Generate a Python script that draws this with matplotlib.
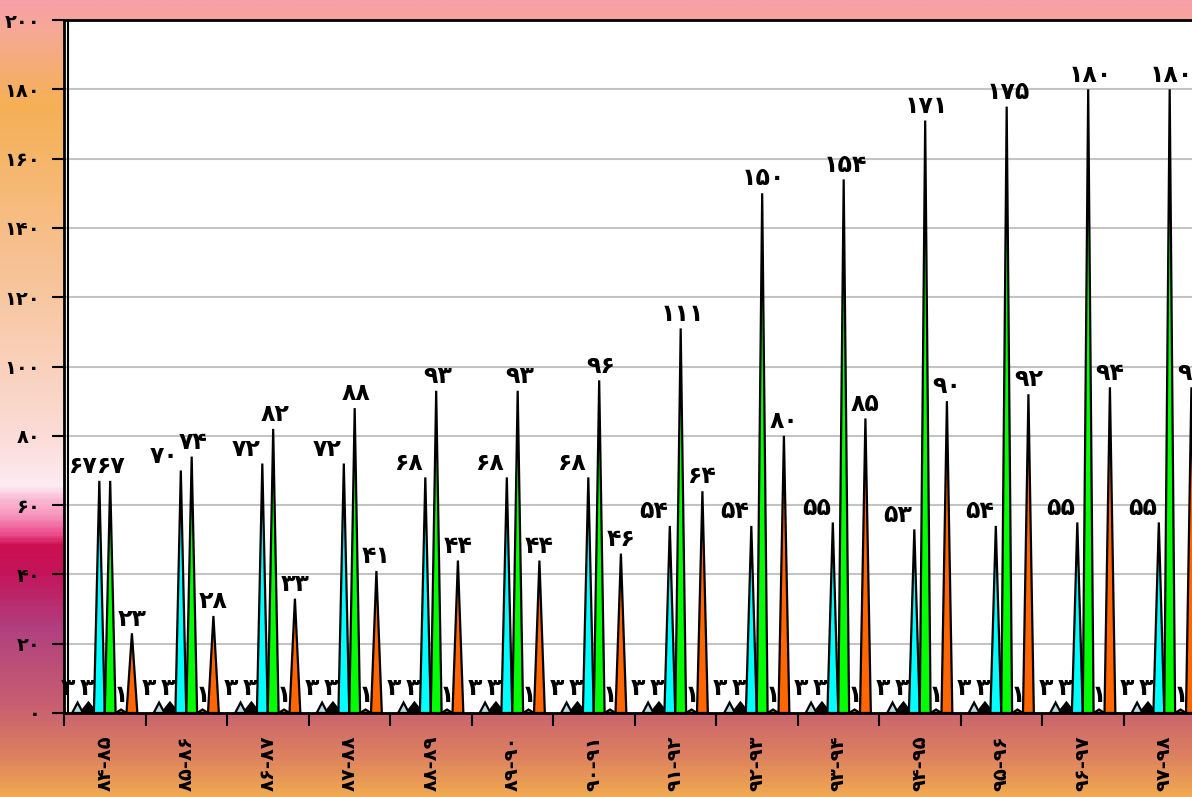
import numpy as np
import matplotlib
matplotlib.use("Agg")
import matplotlib.pyplot as plt
from matplotlib.colors import LinearSegmentedColormap
from matplotlib.transforms import blended_transform_factory

plt.rcParams['font.family'] = ['DejaVu Sans']
plt.rcParams['font.weight'] = 'bold'

# داده ها
categories = ['۸۴-۸۵', '۸۵-۸۶', '۸۶-۸۷', '۸۷-۸۸', '۸۸-۸۹', '۸۹-۹۰', '۹۰-۹۱',
              '۹۱-۹۲', '۹۲-۹۳', '۹۳-۹۴', '۹۴-۹۵', '۹۵-۹۶', '۹۶-۹۷', '۹۷-۹۸']
s_lightblue = [3, 3, 3, 3, 3, 3, 3, 3, 3, 3, 3, 3, 3, 3]
s_black = [3, 3, 3, 3, 3, 3, 3, 3, 3, 3, 3, 3, 3, 3]
s_cyan = [67, 70, 72, 72, 68, 68, 68, 54, 54, 55, 53, 54, 55, 55]
s_green = [67, 74, 82, 88, 93, 93, 96, 111, 150, 154, 171, 175, 180, 180]
s_olive = [1, 1, 1, 1, 1, 1, 1, 1, 1, 1, 1, 1, 1, 1]
s_orange = [23, 28, 33, 41, 44, 44, 46, 64, 80, 85, 90, 92, 94, 94]
y_ticks = [0, 20, 40, 60, 80, 100, 120, 140, 160, 180, 200]

series = [s_lightblue, s_black, s_cyan, s_green, s_olive, s_orange]
colors = ['#b4dfe6', '#000000', '#00ffff', '#00ff00', '#a6a600', '#ff6600']
label_shift = [-0.12, -0.02, -0.2, 0.02, 0.0, 0.0]

fa_digits = str.maketrans('0123456789', '۰۱۲۳۴۵۶۷۸۹')


def fa(n):
    return str(n).translate(fa_digits)


fig = plt.figure(figsize=(11.92, 7.97), dpi=100)

# پس زمینه گرادیانی
bg = fig.add_axes([0, 0, 1, 1], zorder=-5)
stops = [
    (0.00, '#f7a0a8'), (0.04, '#f6aa92'), (0.13, '#f5b055'), (0.35, '#f7c49a'),
    (0.55, '#fbdcd8'), (0.61, '#fdecf2'), (0.625, '#fac0d8'), (0.65, '#f690b8'),
    (0.67, '#ee5090'), (0.685, '#cc1050'), (0.72, '#c4145a'), (0.79, '#b04080'),
    (0.89, '#c86070'), (0.95, '#dc8060'), (1.00, '#f0a850'),
]
cmap = LinearSegmentedColormap.from_list('bg', stops)
bg.imshow(np.linspace(0, 1, 400).reshape(-1, 1), cmap=cmap, aspect='auto',
          extent=[0, 1, 1, 0])
bg.axis('off')

ax = fig.add_axes([64 / 1192, 84 / 797, 1141 / 1192, 693 / 797])
ax.set_facecolor('white')

n = len(categories)
w = 1 / 7.5
for i, (vals, col) in enumerate(zip(series, colors)):
    for c in range(n):
        xc = c - 0.5 + 0.75 * w + (i + 0.5) * w
        v = vals[c]
        half = w * (0.75 if i == 1 else 0.5)
        ax.fill([xc - half, xc, xc + half], [0, v, 0], facecolor=col,
                edgecolor='black', linewidth=1.6, zorder=3 + (i != 1))
        ax.text(xc + label_shift[i], v + 0.8, fa(v), ha='center', va='bottom',
                fontsize=17, fontweight='bold', color='black', zorder=6)

ax.set_xlim(-0.5, n - 0.5)
ax.set_ylim(0, 200)
ax.set_yticks(y_ticks)
ax.set_yticklabels([fa(t) for t in y_ticks], fontsize=14, fontweight='bold')
ax.yaxis.grid(True, color='#c4c4c4', linewidth=1.5, zorder=0)
ax.set_axisbelow(True)

ax.set_xticks(range(n))
ax.set_xticklabels(categories, rotation=90, fontsize=14, fontweight='bold')
ax.tick_params(axis='x', length=0, pad=16)
ax.set_xticks(np.arange(n + 1) - 0.5, minor=True)
ax.tick_params(axis='x', which='minor', length=9, width=1.5, direction='out')
ax.tick_params(axis='y', length=9, width=1.5, direction='out', pad=8)

for s in ['left', 'top', 'bottom', 'right']:
    ax.spines[s].set_linewidth(2)
    ax.spines[s].set_color('black')

# خط دوم محور عمودی
tr = blended_transform_factory(ax.transAxes, ax.transAxes)
ax.plot([4 / 1141, 4 / 1141], [0, 1], color='black', lw=1.5,
        transform=tr, zorder=7, clip_on=False)

fig.savefig('out.png', dpi=100)
plt.close(fig)
